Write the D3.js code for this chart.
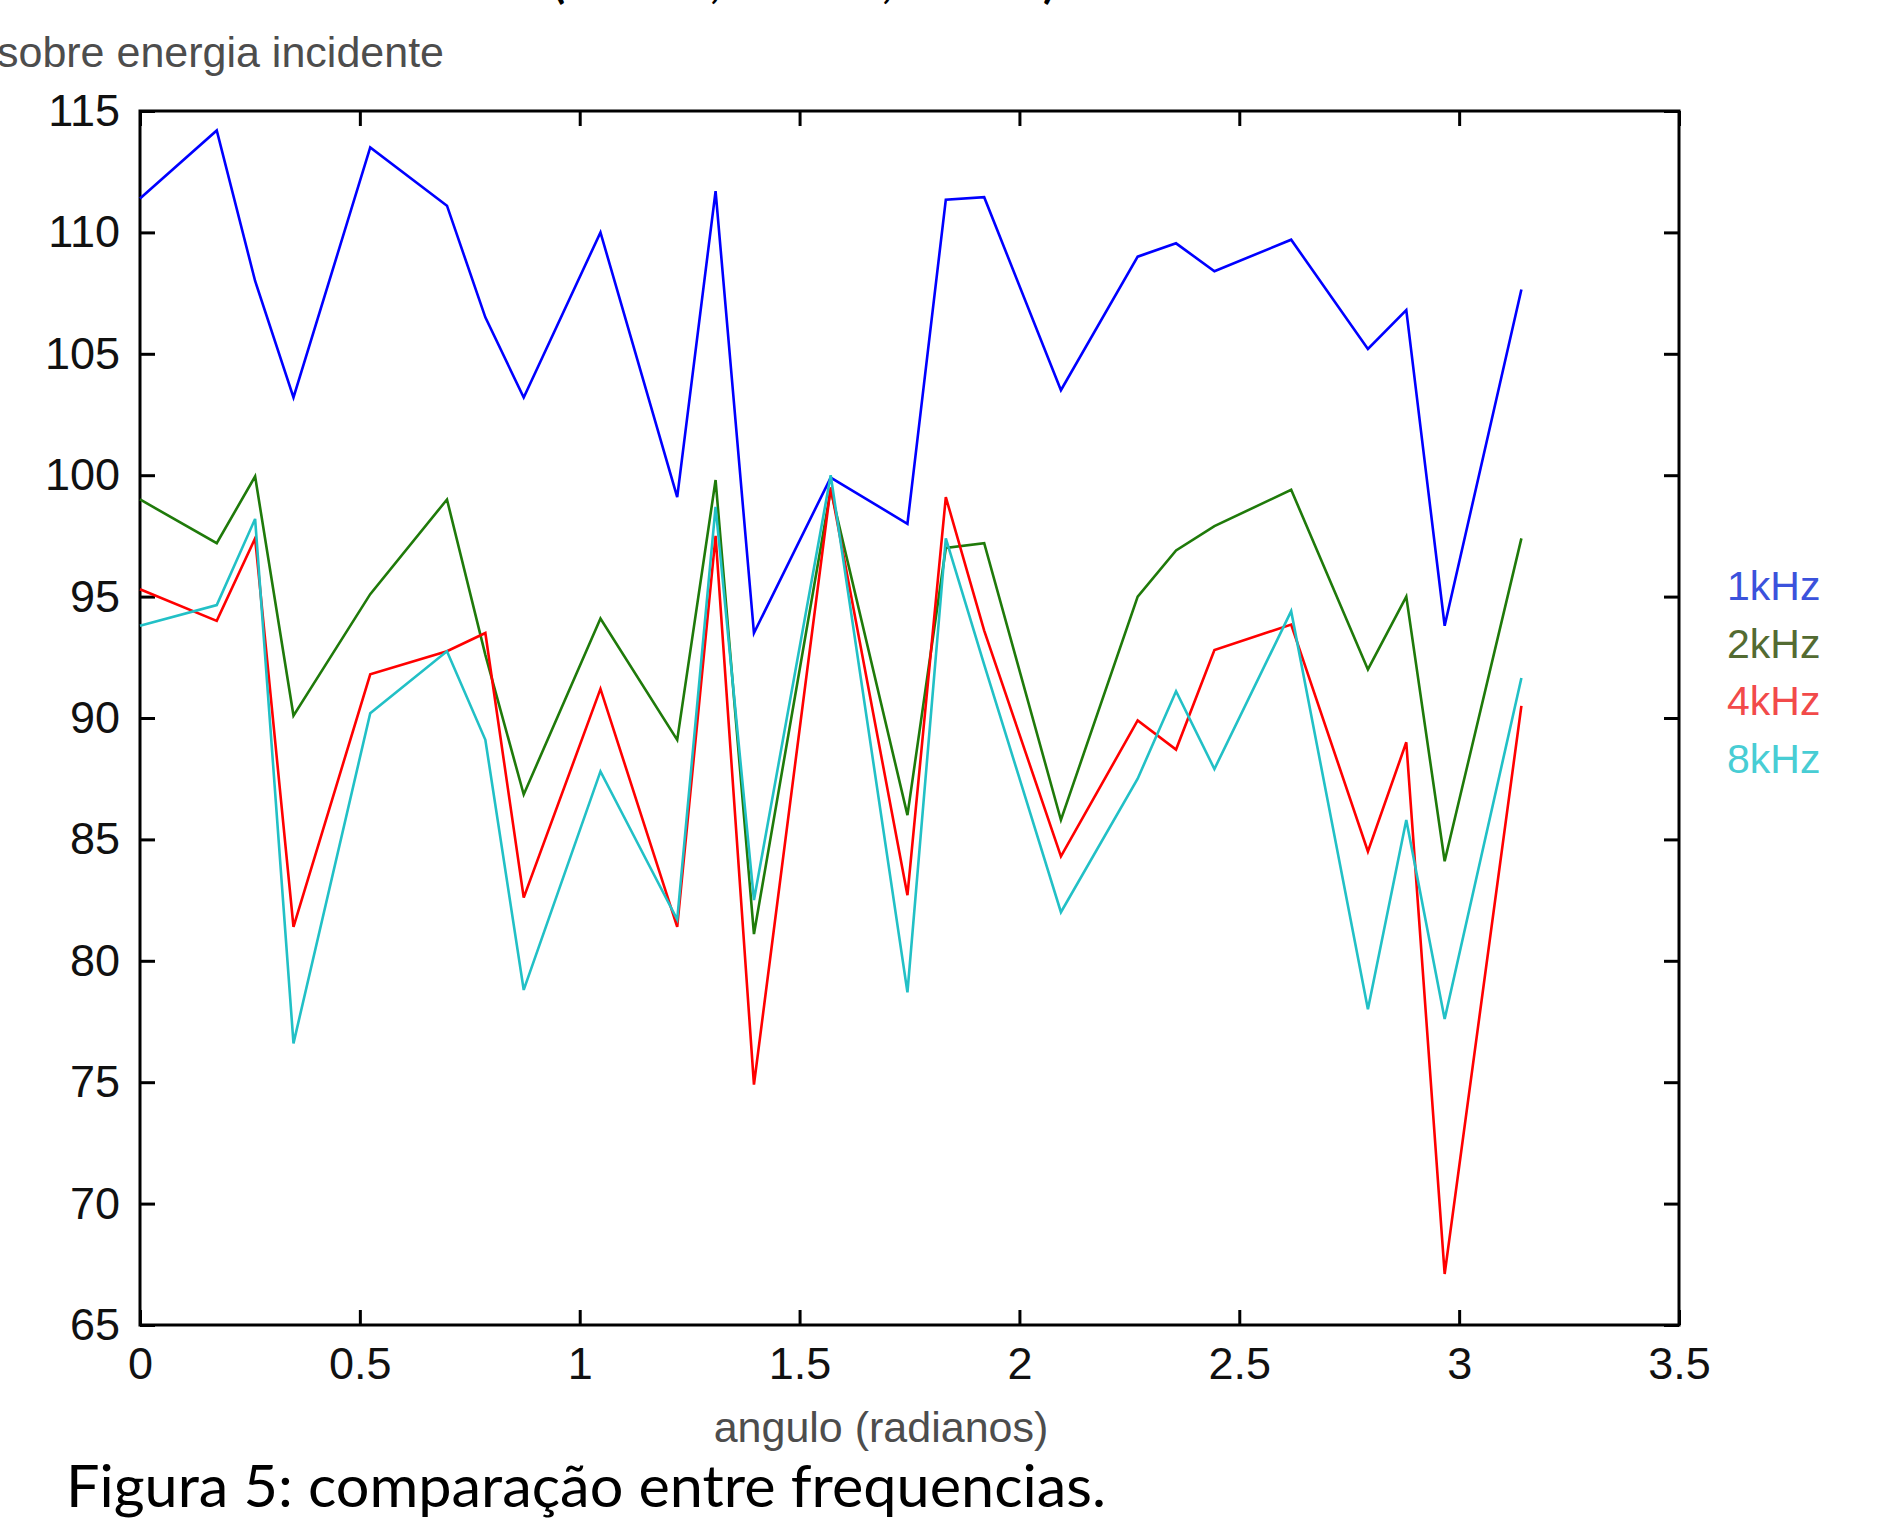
<!DOCTYPE html>
<html>
<head>
<meta charset="utf-8">
<script src="https://cdn.jsdelivr.net/npm/d3@7"></script>
<style>
  body { margin: 0; background: #fff; }
  svg { display: block; }
  .tick text { font-family: "Liberation Sans", Arial, sans-serif; font-size: 45px; fill: #111; }
</style>
</head>
<body>
<svg width="1894" height="1529"></svg>
<script>
// 1. Data (angles in degrees)
const angles = [0, 10, 15, 20, 30, 40, 45, 50, 60, 70, 75, 80, 90, 100, 105, 110, 120, 130, 135, 140, 150, 160, 165, 170, 180];
const f1k = [111.4, 114.2, 108.0, 103.2, 113.5, 111.1, 106.5, 103.2, 110.0, 99.1, 111.7, 93.5, 99.9, 98.0, 111.35, 111.45, 103.5, 109.0, 109.55, 108.4, 109.7, 105.2, 106.8, 93.8, 107.65];
const f2k = [99.0, 97.2, 99.95, 90.1, 95.1, 99.0, 92.6, 86.85, 94.1, 89.1, 99.8, 81.1, 99.4, 86.0, 97.0, 97.2, 85.8, 95.0, 96.9, 97.9, 99.4, 92.0, 95.0, 84.1, 97.4];
const f4k = [95.3, 94.0, 97.4, 81.4, 91.8, 92.75, 93.5, 82.6, 91.2, 81.4, 97.5, 74.9, 99.5, 82.7, 99.1, 93.6, 84.3, 89.9, 88.7, 92.8, 93.85, 84.5, 89.0, 67.1, 90.5];
const f8k = [93.8, 94.65, 98.2, 76.6, 90.2, 92.75, 89.1, 78.8, 87.8, 81.7, 98.7, 82.5, 100.0, 78.7, 97.4, 92.2, 82.0, 87.5, 91.1, 87.9, 94.4, 78.0, 85.8, 77.6, 91.65];
const seriesNames = ['1kHz', '2kHz', '4kHz', '8kHz'];
const xTicks = [0, 0.5, 1, 1.5, 2, 2.5, 3, 3.5];
const yTicks = [65, 70, 75, 80, 85, 90, 95, 100, 105, 110, 115];

// 2. Configuration
const svg = d3.select("svg");
const plotLeft = 140, plotRight = 1679, plotTop = 111, plotBottom = 1325;
const lineColors = ['#0000ff', '#1f7a0a', '#ff0000', '#22c0c6'];
const legendColors = ['#3b52dc', '#536b32', '#f24a4a', '#48cdd4'];
const tickLen = 15;

const x = d3.scaleLinear().domain([0, 3.5]).range([plotLeft, plotRight]);
const y = d3.scaleLinear().domain([65, 115]).range([plotBottom, plotTop]);

// 3. Axes (ticks inward on all four sides)
const axisStyle = g => {
    g.selectAll(".domain").remove();
    g.selectAll(".tick line").attr("stroke", "#000").attr("stroke-width", 3);
};

svg.append("g")
    .attr("transform", `translate(0,${plotBottom})`)
    .call(d3.axisBottom(x).tickValues(xTicks).tickFormat(d => String(d)).tickSize(-tickLen).tickSizeOuter(0).tickPadding(22))
    .call(axisStyle);

svg.append("g")
    .attr("transform", `translate(0,${plotTop})`)
    .call(d3.axisTop(x).tickValues(xTicks).tickFormat("").tickSize(-tickLen).tickSizeOuter(0))
    .call(axisStyle);

svg.append("g")
    .attr("transform", `translate(${plotLeft},0)`)
    .call(d3.axisLeft(y).tickValues(yTicks).tickFormat(d => String(d)).tickSize(-tickLen).tickSizeOuter(0).tickPadding(20))
    .call(axisStyle);

svg.append("g")
    .attr("transform", `translate(${plotRight},0)`)
    .call(d3.axisRight(y).tickValues(yTicks).tickFormat("").tickSize(-tickLen).tickSizeOuter(0))
    .call(axisStyle);

svg.append("rect")
    .attr("x", plotLeft).attr("y", plotTop)
    .attr("width", plotRight - plotLeft).attr("height", plotBottom - plotTop)
    .attr("fill", "none").attr("stroke", "#000").attr("stroke-width", 3);

// 4. Lines
const line = d3.line()
    .x(d => x(d[0] * Math.PI / 180))
    .y(d => y(d[1]));

[f1k, f2k, f4k, f8k].forEach((vals, i) => {
    svg.append("path")
        .datum(angles.map((a, j) => [a, vals[j]]))
        .attr("fill", "none")
        .attr("stroke", lineColors[i])
        .attr("stroke-width", 2.6)
        .attr("stroke-linejoin", "miter")
        .attr("d", line);
});

// 5. Legend
seriesNames.forEach((name, i) => {
    svg.append("text")
        .attr("x", 1727)
        .attr("y", 600 + i * 57.5)
        .attr("font-family", "Liberation Sans, Arial, sans-serif")
        .attr("font-size", 41)
        .attr("fill", legendColors[i])
        .text(name);
});

// 6. Texts
svg.append("text")
    .attr("x", 444).attr("y", 67)
    .attr("text-anchor", "end")
    .attr("font-family", "Liberation Sans, Arial, sans-serif")
    .attr("font-size", 43)
    .attr("fill", "#4d4d4d")
    .text("sobre energia incidente");

svg.append("text")
    .attr("x", 881).attr("y", 1442)
    .attr("text-anchor", "middle")
    .attr("font-family", "Liberation Sans, Arial, sans-serif")
    .attr("font-size", 43)
    .attr("fill", "#4d4d4d")
    .text("angulo (radianos)");

// cut-off title at the very top: only the lower part of its punctuation shows
const title = svg.append("text")
    .attr("y", -2)
    .attr("font-family", "Lato, sans-serif")
    .attr("font-size", 44)
    .attr("font-weight", "bold")
    .attr("fill", "#000");
[["(", 553], [",", 710], [",", 882], [")", 1043]].forEach(p => {
    title.append("tspan").attr("x", p[1]).text(p[0]);
});

svg.append("text")
    .attr("x", 66).attr("y", 1507)
    .attr("font-family", "Lato, sans-serif")
    .attr("font-size", 58)
    .attr("textLength", 1040)
    .attr("lengthAdjust", "spacingAndGlyphs")
    .attr("fill", "#000")
    .text("Figura 5: comparação entre frequencias.");
</script>
</body>
</html>
